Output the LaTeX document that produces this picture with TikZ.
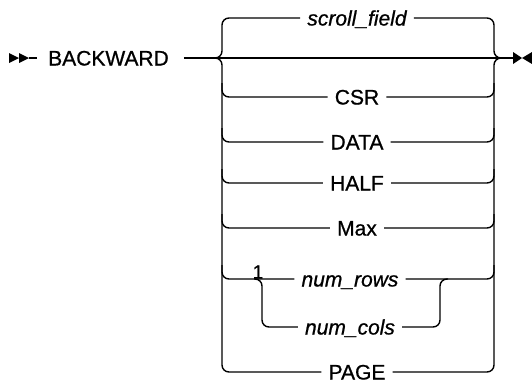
\documentclass[tikz,border=0pt]{standalone}
\usepackage{fontspec}
\setmainfont[FakeBold=0.8,AutoFakeBold=0.8]{Liberation Sans}
\usepackage{tikz}
\usetikzlibrary{arrows.meta,positioning}

\newcommand{\railfont}{\fontsize{21}{24}\selectfont\bfseries}

\tikzset{
  rail/.style={line width=1.4pt, rounded corners=7pt},
  kwd/.style={font=\railfont, inner xsep=7pt, inner ysep=0pt,
              text height=15pt, text depth=0pt},
  var/.style={kwd, font=\railfont\itshape},
}

\begin{document}
\begin{tikzpicture}[x=1pt,y=-1pt]
    \useasboundingbox (0,0) rectangle (532,383);

    % Start and end marks
    \fill (9,53) -- (19,58) -- (9,63) -- cycle;
    \fill (19,53) -- (29,58) -- (19,63) -- cycle;
    \fill (513,52) -- (522,58) -- (513,64) -- cycle;
    \fill (532,52) -- (522,58) -- (532,64) -- cycle;
    \coordinate (go) at (29,58);
    \coordinate (stop) at (513,58);
    \coordinate (split) at (212,58);
    \coordinate (join) at (504,58);

    % Keyword and main line
    \node[kwd, inner xsep=0pt] (kw) at (108.5,58) {BACKWARD};
    \draw[line width=1.4pt] (go) -- ([xshift=-11pt]kw.west);
    \draw[line width=1.4pt] ([xshift=15pt]kw.east) -- (stop);

    % Choices
    \node[var] (scrollfield) at (357,18) {scroll\_field};
    \node[kwd] (csr) at (357,97) {CSR};
    \node[kwd] (data) at (357,142) {DATA};
    \node[kwd] (half) at (357,183) {HALF};
    \node[kwd] (max) at (357,228) {Max};
    \node[var] (numrows) at (350,279) {num\_rows};
    \node[var] (numcols) at (350,327) {num\_cols};
    \node[kwd] (page) at (357,372) {PAGE};
    \node[font=\fontsize{19}{20}\selectfont, inner sep=0pt] (fn) at (258,272) {1};

    % Default branch above
    \draw[rail] (split) -| (222,18) -- (scrollfield.west);
    \draw[rail] (scrollfield.east) -| (494,58) -- (join);

    % Branches below
    \draw[rail] (split) -| (222,372) -- (page.west);
    \draw[rail] (page.east) -| (494,58) -- (join);
    \foreach \n/\y in {csr/97, data/142, half/183, max/228, numrows/279} {
        \draw[rail] (222,\y-14) |- (\n.west);
        \draw[rail] (\n.east) -| (494,\y-14);
    }

    % num_rows or num_cols
    \draw[rail] (254,279) -| (262,327) -- (numcols.west);
    \draw[rail] (numcols.east) -| (440,279) -- (448,279);
\end{tikzpicture}
\end{document}
